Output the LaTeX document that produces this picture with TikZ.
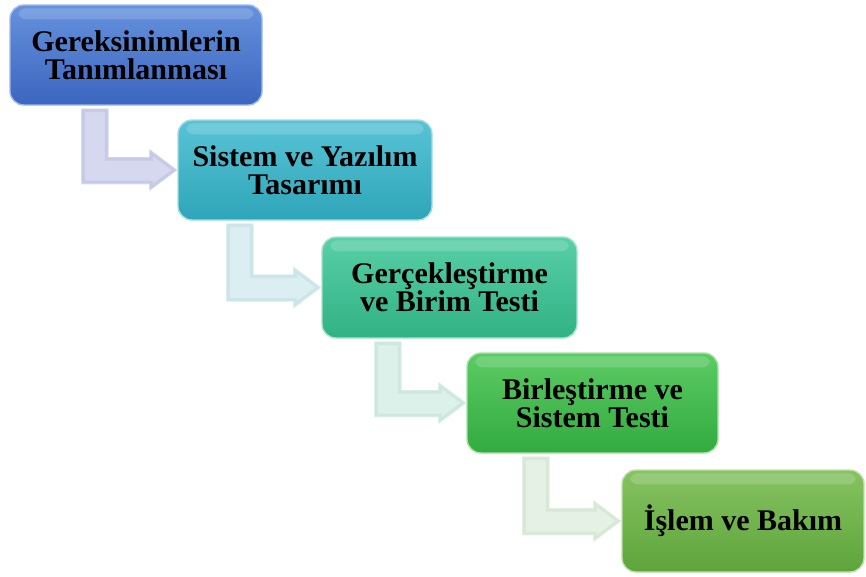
\documentclass[tikz,border=0pt]{standalone}
\usepackage{fontspec}
\setmainfont{Liberation Serif}
\usetikzlibrary{calc}

% box fills (top / bottom of the gradient) and glow borders
\definecolor{bAt}{HTML}{6591DD}\definecolor{bAb}{HTML}{3C66BF}\definecolor{bAe}{HTML}{9DB8EA}
\definecolor{bBt}{HTML}{58C4D5}\definecolor{bBb}{HTML}{2FA5B9}\definecolor{bBe}{HTML}{A4DDE6}
\definecolor{bCt}{HTML}{58CFA8}\definecolor{bCb}{HTML}{31B284}\definecolor{bCe}{HTML}{A6E2CC}
\definecolor{bDt}{HTML}{5CCB64}\definecolor{bDb}{HTML}{32AB3F}\definecolor{bDe}{HTML}{A8E0AC}
\definecolor{bEt}{HTML}{86C361}\definecolor{bEb}{HTML}{5EA43B}\definecolor{bEe}{HTML}{BFE0AA}
% pale bent arrows: face and bevel edge
\definecolor{aAf}{HTML}{D5D8EF}\definecolor{aAe}{HTML}{C6CAE7}
\definecolor{aBf}{HTML}{DBEFF2}\definecolor{aBe}{HTML}{CBE5E9}
\definecolor{aCf}{HTML}{DCF1E9}\definecolor{aCe}{HTML}{CDE8DD}
\definecolor{aDf}{HTML}{E5F1E5}\definecolor{aDe}{HTML}{D7E8D7}

\tikzset{
  stage/.style={rounded corners=14pt, inner sep=0pt, align=center,
    font=\fontsize{30}{28}\selectfont\bfseries, text=black, line width=1.4pt},
  gloss/.style={fill=white, opacity=0.16, rounded corners=7pt},
}

% bent arrow from below box #1 into the left side of box #2
\newcommand{\bentarrow}[4]{%
  \path let \p1=(#1.south west), \p2=(#2.west) in
    coordinate (vt) at (\x1+#3pt, \y1-3pt)
    coordinate (tp) at (\x2, \y2);
  \path let \p1=(vt), \p2=(tp) in
    coordinate (q1) at (\x1, \y1)
    coordinate (q2) at (\x1+27pt, \y1)
    coordinate (q3) at (\x1+27pt, \y2+13pt)
    coordinate (q4) at (\x2-28pt, \y2+13pt)
    coordinate (q5) at (\x2-28pt, \y2+21pt)
    coordinate (q6) at (\x2, \y2)
    coordinate (q7) at (\x2-28pt, \y2-21pt)
    coordinate (q8) at (\x2-28pt, \y2-14pt)
    coordinate (q9) at (\x1, \y2-14pt);
  \fill[#4f] (q1)--(q2)--(q3)--(q4)--(q5)--(q6)--(q7)--(q8)--(q9)--cycle;
  \begin{scope}
    \clip (q1)--(q2)--(q3)--(q4)--(q5)--(q6)--(q7)--(q8)--(q9)--cycle;
    \draw[#4e, line width=7pt, line join=miter]
      (q1)--(q2)--(q3)--(q4)--(q5)--(q6)--(q7)--(q8)--(q9)--cycle;
    \draw[white, opacity=0.6, line width=0.8pt, line join=miter]
      (q1)--(q2)--(q3)--(q4)--(q5)--(q6)--(q7)--(q8)--(q9)--cycle;
  \end{scope}
}

% glossy strip along the top of a box
\newcommand{\glossy}[1]{%
  \fill[gloss] ($(#1.north west)+(9,4)$) rectangle ($(#1.north east)+(-9,15)$);
}

\begin{document}
\begin{tikzpicture}[x=1pt, y=-1pt]
\useasboundingbox (0,0) rectangle (866,576);
\fill[white] (0,0) rectangle (866,576);

\node[stage, top color=bAt, bottom color=bAb, draw=bAe,
  minimum width=252pt, minimum height=100pt] (b1) at (136,55)
  {Gereksinimlerin\\Tanımlanması};
\node[stage, top color=bBt, bottom color=bBb, draw=bBe,
  minimum width=254pt, minimum height=100pt] (b2) at (305,170)
  {Sistem ve Yazılım\\Tasarımı};
\node[stage, top color=bCt, bottom color=bCb, draw=bCe,
  minimum width=255pt, minimum height=101pt] (b3) at (449.5,287.5)
  {Gerçekleştirme\\ve Birim Testi};
\node[stage, top color=bDt, bottom color=bDb, draw=bDe,
  minimum width=251pt, minimum height=100pt] (b4) at (592.5,403)
  {Birleştirme ve\\Sistem Testi};
\node[stage, top color=bEt, bottom color=bEb, draw=bEe,
  minimum width=242pt, minimum height=102pt] (b5) at (743,521)
  {İşlem ve Bakım};

\glossy{b1}\glossy{b2}\glossy{b3}\glossy{b4}\glossy{b5}

\bentarrow{b1}{b2}{72}{aA}
\bentarrow{b2}{b3}{49}{aB}
\bentarrow{b3}{b4}{53}{aC}
\bentarrow{b4}{b5}{56}{aD}
\end{tikzpicture}
\end{document}
